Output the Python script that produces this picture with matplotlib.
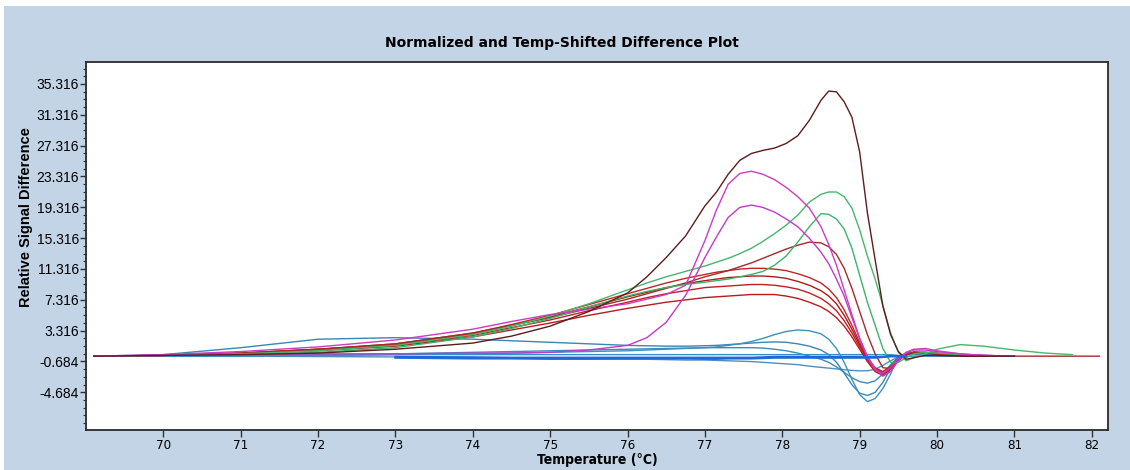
import numpy as np
import matplotlib
matplotlib.use("Agg")
import matplotlib.pyplot as plt
from matplotlib.patches import Rectangle

nan = np.nan

# temperature grid (deg C) shared by all difference curves
temp = [69.1, 70.0, 71.0, 72.0, 73.0, 74.0, 74.5, 75.0, 75.5, 76.0,
        76.25, 76.5, 76.75, 77.0, 77.15, 77.3, 77.45, 77.6, 77.75, 77.9,
        78.05, 78.2, 78.35, 78.5, 78.6, 78.7, 78.8, 78.9, 79.0, 79.1,
        79.2, 79.3, 79.4, 79.5, 79.6, 79.7, 79.85, 80.0, 80.3, 80.6,
        81.0, 81.4, 81.75, 82.1]

brown = [0.0, 0.1, 0.2, 0.4, 0.9, 1.7, 2.6, 3.9, 5.8, 8.2,
         10.3, 12.8, 15.6, 19.5, 21.3, 23.6, 25.4, 26.3, 26.7, 27.0,
         27.6, 28.6, 30.6, 33.2, 34.4, 34.3, 33.0, 31.0, 26.5, 18.6,
         12.5, 6.5, 2.8, 0.6, -0.4, -0.2, 0.1, 0.1, 0.0, 0.0,
         0.0, nan, nan, nan]
magenta_1 = [0.0, 0.2, 0.6, 1.2, 2.1, 3.5, 4.5, 5.4, 6.1, 6.8,
             7.4, 8.0, 9.2, 15.0, 19.0, 22.3, 23.7, 24.0, 23.6, 22.9,
             21.9, 20.7, 19.2, 16.8, 14.5, 11.8, 8.6, 5.4, 2.3, -0.2,
             -1.8, -2.2, -1.5, -0.3, 0.5, 0.9, 1.0, 0.7, 0.3, 0.1,
             0.0, nan, nan, nan]
magenta_2 = [0.0, 0.1, 0.2, 0.3, 0.3, 0.4, 0.4, 0.5, 0.8, 1.4,
             2.4, 4.4, 7.9, 12.8, 15.5, 18.0, 19.3, 19.6, 19.3, 18.7,
             17.8, 16.8, 15.3, 13.5, 12.0, 10.0, 7.8, 5.0, 2.3, 0.0,
             -1.6, -2.6, -2.0, -0.6, 0.4, 0.8, 0.8, 0.6, 0.3, 0.1,
             0.0, nan, nan, nan]
green_1 = [0.0, 0.1, 0.3, 0.7, 1.4, 2.8, 3.9, 5.2, 6.8, 8.6,
           9.5, 10.3, 11.0, 11.7, 12.2, 12.7, 13.3, 14.0, 14.9, 15.9,
           17.0, 18.3, 20.0, 21.0, 21.3, 21.3, 20.7, 19.2, 16.4, 13.0,
           10.0, 6.6, 3.0, 0.5, -0.6, -0.2, 0.3, 0.9, 1.5, 1.3,
           0.8, 0.4, 0.2, nan]
green_2 = [0.0, 0.1, 0.2, 0.5, 1.1, 2.5, 3.6, 4.9, 6.4, 7.8,
           8.4, 8.9, 9.3, 9.6, 9.8, 10.0, 10.3, 10.6, 11.0, 11.8,
           13.0, 14.8, 16.8, 18.5, 18.4, 17.8, 16.5, 14.0, 10.5, 7.0,
           4.0, 1.0, -0.8, -0.8, -0.2, 0.3, 0.5, 0.4, 0.2, 0.1,
           0.0, nan, nan, nan]
red_a = [0.0, 0.1, 0.4, 0.9, 1.6, 3.0, 4.0, 5.0, 6.2, 7.4,
         8.1, 8.8, 9.5, 10.3, 10.7, 11.1, 11.6, 12.1, 12.7, 13.3,
         13.9, 14.4, 14.8, 14.7, 14.2, 13.2, 11.4, 8.8, 5.8, 2.8,
         0.3, -1.5, -1.6, -0.6, 0.2, 0.5, 0.5, 0.4, 0.2, 0.1,
         0.0, 0.0, 0.0, 0.0]
red_b = [0.0, 0.1, 0.4, 0.9, 1.6, 3.0, 4.1, 5.3, 6.7, 8.1,
         8.8, 9.5, 10.1, 10.6, 10.9, 11.1, 11.3, 11.4, 11.4, 11.3,
         11.1, 10.7, 10.2, 9.5, 8.7, 7.6, 6.0, 4.0, 1.8, -0.2,
         -1.5, -2.0, -1.3, -0.3, 0.3, 0.5, 0.4, 0.3, 0.1, 0.0,
         0.0, nan, nan, nan]
red_c = [0.0, 0.1, 0.4, 0.9, 1.5, 2.9, 4.0, 5.1, 6.4, 7.7,
         8.3, 8.9, 9.4, 9.8, 10.0, 10.2, 10.3, 10.4, 10.4, 10.3,
         10.1, 9.7, 9.2, 8.5, 7.8, 6.8, 5.3, 3.5, 1.5, -0.3,
         -1.6, -2.1, -1.4, -0.4, 0.3, 0.5, 0.5, 0.3, 0.1, 0.0,
         0.0, nan, nan, nan]
red_d = [0.0, 0.1, 0.3, 0.8, 1.4, 2.7, 3.7, 4.7, 5.9, 7.0,
         7.6, 8.1, 8.5, 8.9, 9.0, 9.1, 9.2, 9.3, 9.3, 9.2,
         9.0, 8.7, 8.2, 7.5, 6.8, 5.9, 4.6, 3.0, 1.2, -0.5,
         -1.8, -2.3, -1.5, -0.4, 0.3, 0.5, 0.4, 0.3, 0.1, 0.0,
         0.0, nan, nan, nan]
red_e = [0.0, 0.1, 0.3, 0.7, 1.3, 2.5, 3.4, 4.3, 5.3, 6.2,
         6.6, 7.0, 7.3, 7.6, 7.7, 7.8, 7.9, 8.0, 8.0, 8.0,
         7.8, 7.5, 7.0, 6.4, 5.8, 5.0, 3.9, 2.5, 0.9, -0.7,
         -2.0, -2.5, -1.7, -0.5, 0.2, 0.5, 0.4, 0.3, 0.1, 0.0,
         0.0, nan, nan, nan]
teal_a = [0.0, 0.0, 0.1, 0.1, 0.2, 0.3, 0.4, 0.5, 0.6, 0.7,
          0.8, 0.9, 1.0, 1.1, 1.2, 1.4, 1.6, 1.9, 2.3, 2.8,
          3.2, 3.4, 3.3, 2.9, 2.2, 1.0, -0.8, -3.0, -5.0, -5.9,
          -5.5, -4.2, -2.3, 0.0, 0.3, 0.4, 0.3, 0.2, 0.1, 0.0,
          nan, nan, nan, nan]
teal_b = [0.0, 0.2, 1.1, 2.2, 2.4, 2.2, 2.0, 1.8, 1.6, 1.4,
          1.35, 1.3, 1.3, 1.35, 1.4, 1.5, 1.6, 1.7, 1.8, 1.85,
          1.8, 1.6, 1.3, 0.8, 0.2, -0.8, -2.2, -3.7, -4.8, -5.1,
          -4.7, -3.4, -1.6, -0.2, 0.3, 0.3, 0.2, 0.1, 0.0, 0.0,
          nan, nan, nan, nan]
teal_c = [0.0, 0.0, 0.1, 0.2, 0.3, 0.5, 0.6, 0.7, 0.8, 0.9,
          0.95, 1.0, 1.05, 1.1, 1.1, 1.1, 1.1, 1.1, 1.05, 0.9,
          0.7, 0.4, 0.0, -0.4, -0.8, -1.4, -2.1, -2.8, -3.3, -3.5,
          -3.2, -2.3, -1.1, -0.1, 0.3, 0.3, 0.2, 0.1, 0.0, 0.0,
          nan, nan, nan, nan]
teal_d = [0.0, 0.0, 0.0, -0.05, -0.1, -0.2, -0.25, -0.3, -0.35, -0.4,
          -0.4, -0.45, -0.5, -0.5, -0.55, -0.6, -0.65, -0.7, -0.8, -0.9,
          -1.0, -1.1, -1.3, -1.45, -1.55, -1.65, -1.75, -1.85, -1.9, -1.9,
          -1.7, -1.2, -0.6, -0.1, 0.2, 0.2, 0.1, 0.0, 0.0, 0.0,
          nan, nan, nan, nan]
flat_1 = [0.0, 0.0, 0.0, 0.1, 0.2, 0.2, 0.2, 0.2, 0.2, 0.2,
          0.2, 0.2, 0.2, 0.2, 0.2, 0.2, 0.2, 0.2, 0.2, 0.2,
          0.2, 0.2, 0.2, 0.2, 0.2, 0.2, 0.2, 0.2, 0.2, 0.2,
          0.2, 0.2, 0.2, 0.1, 0.0, 0.0, 0.0, 0.0, 0.0, 0.0,
          nan, nan, nan, nan]
blue_1 = [nan, nan, nan, nan, -0.1, -0.15, -0.2, -0.2, -0.2, -0.2,
          -0.2, -0.2, -0.2, -0.2, -0.2, -0.2, -0.2, -0.2, -0.15, -0.1,
          -0.1, -0.1, -0.1, -0.1, -0.1, -0.1, -0.1, -0.1, -0.1, -0.1,
          -0.1, -0.1, 0.0, 0.0, 0.0, nan, nan, nan, nan, nan,
          nan, nan, nan, nan]
blue_2 = [nan, nan, nan, nan, -0.2, -0.3, -0.3, -0.35, -0.35, -0.3,
          -0.3, -0.3, -0.3, -0.35, -0.35, -0.3, -0.3, -0.3, -0.25, -0.2,
          -0.2, -0.2, -0.2, -0.2, -0.2, -0.2, -0.2, -0.2, -0.2, -0.2,
          -0.2, -0.1, 0.0, 0.0, 0.0, nan, nan, nan, nan, nan,
          nan, nan, nan, nan]

x_ticks = [70, 71, 72, 73, 74, 75, 76, 77, 78, 79, 80, 81, 82]
y_ticks = [-4.684, -0.684, 3.316, 7.316, 11.316, 15.316, 19.316, 23.316,
           27.316, 31.316, 35.316]

series = [
    (teal_d, "#4d8fbf"), (teal_c, "#3f8ab8"), (teal_b, "#3a86b5"),
    (teal_a, "#3f90bf"), (flat_1, "#3490c8"),
    (red_e, "#b81c1c"), (red_d, "#c01f26"), (red_c, "#b01818"),
    (red_b, "#c42424"), (red_a, "#a52a2a"),
    (green_2, "#3cb46a"), (green_1, "#45b86c"),
    (magenta_2, "#c23ac8"), (magenta_1, "#cc3cc0"),
    (brown, "#5e1c1c"),
    (blue_2, "#2a6fd6"), (blue_1, "#1e66dc"),
]

narrow = dict(family=["DejaVu Sans"], stretch="condensed")

fig = plt.figure(figsize=(11.3, 4.7), dpi=100, facecolor="white")
fig.patches.append(Rectangle((4 / 1130, 0), 1, 1 - 6 / 470, transform=fig.transFigure,
                             facecolor="#c2d4e6", edgecolor="none", zorder=-1))

ax = fig.add_axes([86 / 1130, 40 / 470, 1022 / 1130, 368 / 470])
ax.set_facecolor("white")

for vals, col in series:
    lw = 1.6 if col in ("#2a6fd6", "#1e66dc") else 1.0
    ax.plot(temp, vals, color=col, lw=lw, solid_joinstyle="round")

ax.set_xlim(69.0, 82.21)
ax.set_ylim(-9.58, 38.17)

ax.set_xticks(x_ticks)
ax.set_xticklabels([str(t) for t in x_ticks], fontsize=9.5, **narrow)
ax.set_yticks(y_ticks)
ax.set_yticklabels(["%.3f" % t for t in y_ticks],
                   fontfamily=["Liberation Sans", "DejaVu Sans"], fontsize=10)
ax.set_yticks(np.arange(-8.684, 38.0, 1.0), minor=True)
ax.tick_params(axis="y", which="major", length=4, width=1, pad=1, color="#333333")
ax.tick_params(axis="y", which="minor", length=2.5, width=0.8, color="#333333")
ax.tick_params(axis="x", which="major", length=5, width=1, pad=1.5, color="#333333")
for sp in ax.spines.values():
    sp.set_color("#2a2a2a")
    sp.set_linewidth(1.3)

fig.text(562 / 1130, 1 - 43 / 470, "Normalized and Temp-Shifted Difference Plot",
         ha="center", va="center", fontsize=10, fontweight="bold",
         fontfamily=["DejaVu Sans"])
fig.text(597 / 1130, 3 / 470, "Temperature (°C)", ha="center", va="bottom",
         fontsize=10, fontweight="bold", **narrow)
fig.text(26 / 1130, 1 - 217 / 470, "Relative Signal Difference", rotation=90,
         ha="center", va="center", fontsize=10.5, fontweight="bold",
         fontfamily=["Liberation Sans", "DejaVu Sans"])

fig.savefig("out.png", dpi=100, facecolor=fig.get_facecolor())
